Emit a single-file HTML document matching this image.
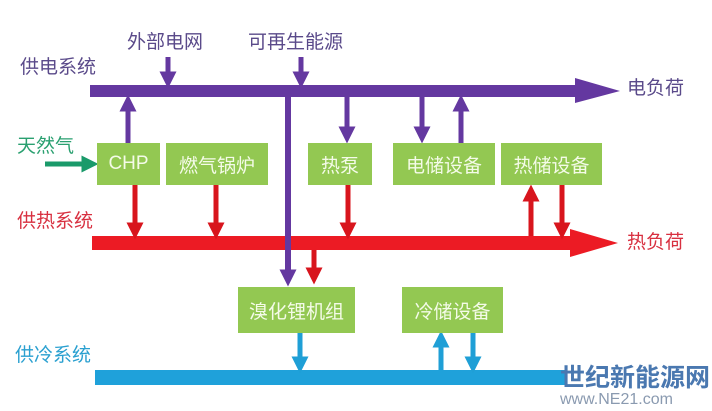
<!DOCTYPE html>
<html><head><meta charset="utf-8"><style>
body{margin:0;width:712px;height:411px;background:#fff;overflow:hidden;position:relative;font-family:"Liberation Sans","Noto Sans CJK SC",sans-serif}
.t{position:absolute;font-size:19px;white-space:nowrap;line-height:1}
.b{position:absolute;background:#93c852;color:#f4fbe8;font-size:19px;display:flex;align-items:center;justify-content:center}
</style></head><body>
<svg width="712" height="411" style="position:absolute;left:0;top:0">
<defs>
<marker id="mp" markerWidth="3.4" markerHeight="3.4" refX="1.7" refY="1.7" orient="auto" markerUnits="strokeWidth"><path d="M0,0L3.4,1.7L0,3.4z" fill="#6438a0"/></marker>
<marker id="mr" markerWidth="3.4" markerHeight="3.4" refX="1.7" refY="1.7" orient="auto" markerUnits="strokeWidth"><path d="M0,0L3.4,1.7L0,3.4z" fill="#d8151d"/></marker>
<marker id="mb" markerWidth="3.4" markerHeight="3.4" refX="1.7" refY="1.7" orient="auto" markerUnits="strokeWidth"><path d="M0,0L3.4,1.7L0,3.4z" fill="#1f9fd6"/></marker>
<marker id="mg" markerWidth="3.4" markerHeight="3.4" refX="1.7" refY="1.7" orient="auto" markerUnits="strokeWidth"><path d="M0,0L3.4,1.7L0,3.4z" fill="#1a9a6a"/></marker>
</defs>
<rect x="90" y="85" width="488" height="12" fill="#6438a0"/>
<path d="M575,78L620,91L575,103z" fill="#6438a0"/>
<rect x="92" y="236" width="480" height="14" fill="#ec1b24"/>
<path d="M570,229L618,243L570,257z" fill="#ec1b24"/>
<rect x="95" y="370" width="470" height="15" fill="#1fa1da"/>
<rect x="285" y="97" width="6" height="180" fill="#6438a0"/>
<g stroke="#6438a0" stroke-width="5" fill="none">
<line x1="168" y1="57" x2="168" y2="80" marker-end="url(#mp)"/>
<line x1="301" y1="57" x2="301" y2="80" marker-end="url(#mp)"/>
<line x1="128" y1="143" x2="128" y2="103" marker-end="url(#mp)"/>
<line x1="347" y1="97" x2="347" y2="135" marker-end="url(#mp)"/>
<line x1="422" y1="97" x2="422" y2="135" marker-end="url(#mp)"/>
<line x1="461" y1="143" x2="461" y2="103" marker-end="url(#mp)"/>
<line x1="288" y1="260" x2="288" y2="278" marker-end="url(#mp)"/>
</g>
<g stroke="#d8151d" stroke-width="5" fill="none">
<line x1="135" y1="185" x2="135" y2="231" marker-end="url(#mr)"/>
<line x1="216" y1="185" x2="216" y2="231" marker-end="url(#mr)"/>
<line x1="348" y1="185" x2="348" y2="231" marker-end="url(#mr)"/>
<line x1="531" y1="236" x2="531" y2="193" marker-end="url(#mr)"/>
<line x1="562" y1="185" x2="562" y2="231" marker-end="url(#mr)"/>
<line x1="314" y1="250" x2="314" y2="276" marker-end="url(#mr)"/>
</g>
<g stroke="#1f9fd6" stroke-width="5" fill="none">
<line x1="300" y1="333" x2="300" y2="365" marker-end="url(#mb)"/>
<line x1="441" y1="370" x2="441" y2="339" marker-end="url(#mb)"/>
<line x1="473" y1="333" x2="473" y2="365" marker-end="url(#mb)"/>
</g>
<line x1="45" y1="164" x2="90" y2="164" stroke="#1a9a6a" stroke-width="5" marker-end="url(#mg)"/>
</svg>
<div class="t" style="left:20px;top:58px;color:#5a4a8a">供电系统</div>
<div class="t" style="left:127px;top:33px;color:#5a4a8a">外部电网</div>
<div class="t" style="left:248px;top:33px;color:#5a4a8a">可再生能源</div>
<div class="t" style="left:627px;top:79px;color:#5a4a8a">电负荷</div>
<div class="t" style="left:17px;top:137px;color:#2aa070">天然气</div>
<div class="t" style="left:17px;top:212px;color:#d83040">供热系统</div>
<div class="t" style="left:627px;top:233px;color:#d83040">热负荷</div>
<div class="t" style="left:15px;top:346px;color:#2aa0d0">供冷系统</div>
<div class="b" style="left:97px;top:143px;width:63px;height:42px">CHP</div>
<div class="b" style="left:166px;top:143px;width:102px;height:42px">燃气锅炉</div>
<div class="b" style="left:308px;top:143px;width:64px;height:42px">热泵</div>
<div class="b" style="left:393px;top:143px;width:102px;height:42px">电储设备</div>
<div class="b" style="left:501px;top:143px;width:101px;height:42px">热储设备</div>
<div class="b" style="left:238px;top:287px;width:117px;height:46px">溴化锂机组</div>
<div class="b" style="left:402px;top:287px;width:101px;height:46px">冷储设备</div>
<div class="t" style="left:560px;top:366px;color:#4a78b0;font-size:25px;font-weight:bold">世纪新能源网</div>
<div class="t" style="left:560px;top:392px;color:#8a9ab0;font-size:16px">www.NE21.com</div>
</body></html>
